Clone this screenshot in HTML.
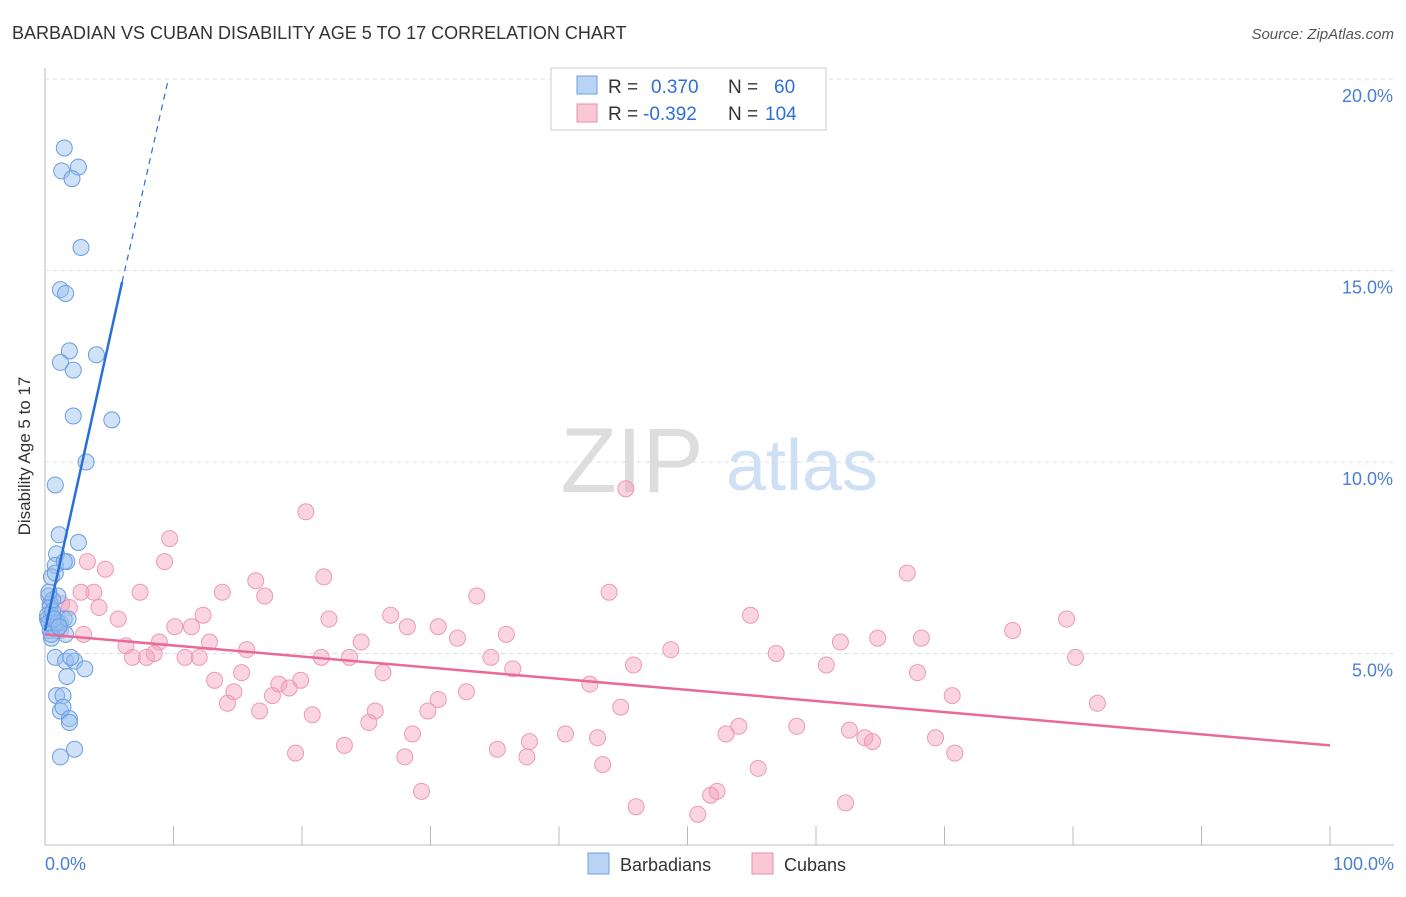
<!DOCTYPE html>
<html><head><meta charset="utf-8"><style>
body{margin:0;background:#fff;font-family:"Liberation Sans",sans-serif}
svg text{font-family:"Liberation Sans",sans-serif}
</style></head><body>
<svg width="1406" height="892">
<text x="12" y="39" font-size="18" fill="#333">BARBADIAN VS CUBAN DISABILITY AGE 5 TO 17 CORRELATION CHART</text>
<text x="1394" y="39" font-size="15" fill="#555" text-anchor="end" font-style="italic">Source: ZipAtlas.com</text>
<g id="grid"></g>
<text x="632" y="492" font-size="92" fill="#ddd" text-anchor="middle" font-family="Liberation Serif">ZIP</text>
<text x="802" y="490" font-size="72" fill="#cfe0f5" text-anchor="middle">atlas</text>
<g id="pts"></g>
<g id="lines"></g>
<text x="30" y="456" font-size="17" fill="#333" text-anchor="middle" transform="rotate(-90 30 456)">Disability Age 5 to 17</text>
<text x="45" y="870" font-size="18" fill="#4a7fd4">0.0%</text>
<text x="1394" y="870" font-size="18" fill="#4a7fd4" text-anchor="end">100.0%</text>
<g>
<rect x="551" y="68" width="275" height="62" fill="#fff" stroke="#ccc"/>
<rect x="577" y="76" width="20" height="18" fill="#b9d3f5" stroke="#6fa0e0"/>
<rect x="577" y="104" width="20" height="18" fill="#f9c7d6" stroke="#ea8fac"/>
<text x="608" y="93" font-size="19" fill="#333">R = </text><text x="651" y="93" font-size="19" fill="#2f6fd6">0.370</text>
<text x="728" y="93" font-size="19" fill="#333">N = </text><text x="774" y="93" font-size="19" fill="#2f6fd6">60</text>
<text x="608" y="120" font-size="19" fill="#333">R = </text><text x="643" y="120" font-size="19" fill="#2f6fd6">-0.392</text>
<text x="728" y="120" font-size="19" fill="#333">N = </text><text x="765" y="120" font-size="19" fill="#2f6fd6">104</text>
</g>
<g>
<rect x="588" y="853" width="21" height="21" fill="#b9d3f5" stroke="#6fa0e0"/>
<text x="620" y="871" font-size="18" fill="#333">Barbadians</text>
<rect x="752" y="853" width="21" height="21" fill="#f9c7d6" stroke="#ea8fac"/>
<text x="784" y="871" font-size="18" fill="#333">Cubans</text>
</g>
</svg>
<script>
const yTicks=[5,10,15,20];
const yTickLabels=["5.0%","10.0%","15.0%","20.0%"];
const xTicks=[0,10,20,30,40,50,60,70,80,90,100];
const blueX=[1.5,2.6,1.3,2.1,2.8,1.2,1.6,1.9,4.0,1.2,2.2,2.2,5.2,3.2,0.8,1.1,2.6,0.9,1.7,0.8,0.5,0.8,0.3,1.0,0.4,0.5,0.2,0.6,1.2,1.5,0.4,0.9,1.6,0.5,0.8,1.6,2.3,3.1,1.7,0.9,1.4,1.2,1.4,1.9,1.9,2.3,1.2,0.4,0.2,0.5,0.3,0.6,1.0,0.7,1.5,1.8,0.6,0.3,1.1,2.0];
const blueY=[18.2,17.7,17.6,17.4,15.6,14.5,14.4,12.9,12.8,12.6,12.4,11.2,11.1,10.0,9.4,8.1,7.9,7.6,7.4,7.3,7.0,7.1,6.5,6.5,6.3,6.0,5.9,5.7,5.8,5.9,5.6,5.6,5.5,5.4,4.9,4.8,4.8,4.6,4.4,3.9,3.9,3.5,3.6,3.3,3.2,2.5,2.3,6.2,6.0,5.5,5.8,6.1,5.8,5.9,7.4,5.9,6.4,6.6,5.7,4.9];
const pinkX=[45.2,20.3,9.7,3.3,9.3,4.7,67.1,21.7,16.4,7.4,13.8,17.1,43.9,33.6,3.8,2.8,1.3,1.9,4.2,26.9,54.9,12.3,22.1,5.7,79.5,28.2,10.1,11.4,30.6,75.3,35.9,64.8,68.2,61.9,32.1,24.6,8.9,12.8,6.3,15.7,8.5,6.8,7.9,10.9,12.0,21.5,23.7,34.7,56.9,80.2,48.7,60.8,45.8,36.4,15.3,26.3,13.2,42.4,18.2,19.9,67.9,19.0,14.7,17.7,32.8,30.6,14.2,70.6,81.9,44.8,16.7,25.7,20.8,29.8,25.2,54.0,58.5,53.0,62.6,63.8,64.4,69.3,40.5,43.0,28.6,37.7,23.3,35.2,19.5,70.8,37.5,28.0,43.4,55.5,29.3,52.3,51.8,46.0,62.3,50.8,0.2,0.8,1.2,3.0];
const pinkY=[9.3,8.7,8.0,7.4,7.4,7.2,7.1,7.0,6.9,6.6,6.6,6.5,6.6,6.5,6.6,6.6,6.3,6.2,6.2,6.0,6.0,6.0,5.9,5.9,5.9,5.7,5.7,5.7,5.7,5.6,5.5,5.4,5.4,5.3,5.4,5.3,5.3,5.3,5.2,5.1,5.0,4.9,4.9,4.9,4.9,4.9,4.9,4.9,5.0,4.9,5.1,4.7,4.7,4.6,4.5,4.5,4.3,4.2,4.2,4.3,4.5,4.1,4.0,3.9,4.0,3.8,3.7,3.9,3.7,3.6,3.5,3.5,3.4,3.5,3.2,3.1,3.1,2.9,3.0,2.8,2.7,2.8,2.9,2.8,2.9,2.7,2.6,2.5,2.4,2.4,2.3,2.3,2.1,2.0,1.4,1.4,1.3,1.0,1.1,0.8,5.9,5.8,5.6,5.5];
const blueLine=[[0,5.6],[6.0,14.7]];
const blueDash=[[6.0,14.7],[9.6,20.0]];
const pinkLine=[[0,5.5],[100,2.6]];
const X=v=>45+v*12.85, Y=v=>845-v*38.3;
const NS="http://www.w3.org/2000/svg";
function mk(p,t,a){const e=document.createElementNS(NS,t);for(const k in a)e.setAttribute(k,a[k]);p.appendChild(e);return e;}
const g=document.getElementById('grid');
const ax=mk(g,'line',{x1:45,y1:68,x2:45,y2:845,stroke:'#bbb'});


const bx=mk(g,'line',{x1:45,y1:845,x2:1394,y2:845,stroke:'#bbb'});


yTicks.forEach((t,i)=>{
 const l=mk(g,'line',{x1:45,x2:1394,y1:Y(t),y2:Y(t),stroke:'#ddd','stroke-dasharray':'4,4'});
 
 
 const tx=mk(g,'text',{x:1393,y:Y(t)+23,'font-size':18,fill:'#4a7fd4','text-anchor':'end'});tx.textContent=yTickLabels[i];
 
 
});
xTicks.forEach(t=>{
 const l=mk(g,'line',{x1:X(t),x2:X(t),y1:826,y2:845,stroke:'#bbb'});
 
 
});
const p=document.getElementById('pts');
pinkX.forEach((x,i)=>{const c=mk(p,'circle',{cx:X(x),cy:Y(pinkY[i]),r:8,fill:'rgba(244,160,188,0.45)',stroke:'#ec9ab5','stroke-width':1});
 
 });
blueX.forEach((x,i)=>{const c=mk(p,'circle',{cx:X(x),cy:Y(blueY[i]),r:8,fill:'rgba(150,190,240,0.45)',stroke:'#6a9de0','stroke-width':1});
 
 });
const L=document.getElementById('lines');
function ln(a,col,w,dash,name){const e=mk(L,'line',{x1:X(a[0][0]),y1:Y(a[0][1]),x2:X(a[1][0]),y2:Y(a[1][1]),stroke:col,'stroke-width':w});if(dash)e.setAttribute('stroke-dasharray',dash);
 
 }
ln(pinkLine,'#e8699a',2.5,null,'cubans-trend-line');
ln(blueLine,'#2a6fd8',2.5,null,'barbadians-trend-line');
ln(blueDash,'#2a6fd8',1.2,'6,5','barbadians-trend-extension');
</script>
</body></html>
